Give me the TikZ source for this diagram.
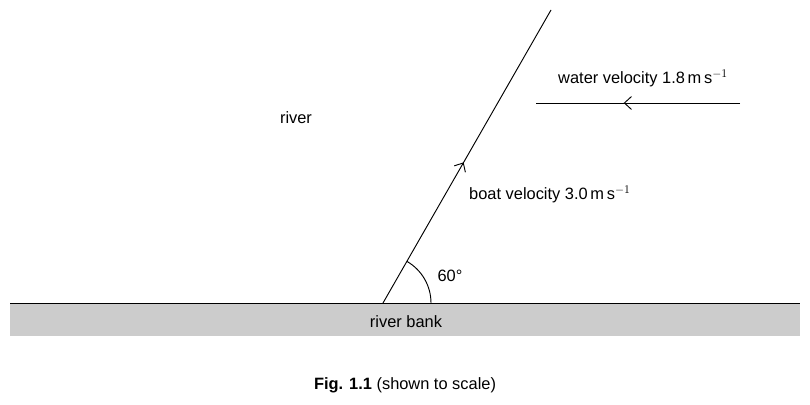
\documentclass[tikz,border=0pt]{standalone}
\usepackage{fontspec}
\setmainfont{Liberation Sans}
\usetikzlibrary{arrows.meta,decorations.markings}
\begin{document}
\begin{tikzpicture}[x=0.03cm,y=-0.03cm,
  lbl/.style={font=\fontsize{14}{16}\selectfont, inner sep=0pt},
  vec/.style={line width=0.8pt, postaction={decorate}, decoration={markings, mark=at position #1 with {\arrow{Straight Barb[length=6pt,width=11pt]}}}}]
\useasboundingbox (0,0) rectangle (810,405);
\fill[gray!40] (10,303) rectangle (800,336);
\draw[line width=0.8pt] (10,303) -- (800,303);
\node[lbl] (bank) at (406,322) {river bank};
\coordinate (o) at (383,303);
\coordinate (t) at (551,10);
\draw[vec=0.48] (o) -- (t);
\draw[line width=0.8pt] ([xshift=48*0.03cm]o) arc[start angle=0,end angle=60,radius=48*0.03cm];
\node[lbl] (ang) at (450,276) {60°};
\coordinate (w1) at (740,103);
\coordinate (w2) at (536,103);
\draw[vec=0.57] (w1) -- (w2);
\node[lbl] (river) at (296,118) {river};
\node[lbl,anchor=west] (wv) at (558,78) {water velocity 1.8\,m\,s$^{-1}$};
\node[lbl,anchor=west] (bv) at (469,194) {boat velocity 3.0\,m\,s$^{-1}$};
\node[lbl] (cap) at (405,385) {\textbf{Fig. 1.1} (shown to scale)};
\end{tikzpicture}
\end{document}
